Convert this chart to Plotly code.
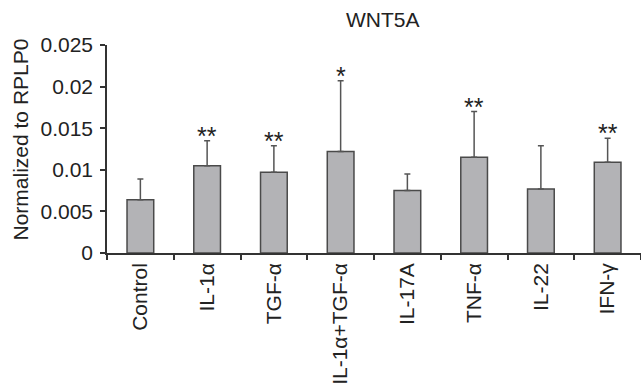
import plotly.graph_objects as go

categories = ["Control", "IL-1α", "TGF-α", "IL-1α+TGF-α", "IL-17A", "TNF-α", "IL-22", "IFN-γ"]
means = [0.0064, 0.0105, 0.0097, 0.0122, 0.0075, 0.0115, 0.0077, 0.0109]
err_top = [0.0089, 0.0135, 0.0129, 0.0207, 0.0095, 0.0170, 0.0129, 0.0138]
stars = ["", "**", "**", "*", "", "**", "", "**"]
yticks = [0, 0.005, 0.01, 0.015, 0.02, 0.025]
ytick_labels = ["0", "0.005", "0.01", "0.015", "0.02", "0.025"]

errs = [t - m for t, m in zip(err_top, means)]

FONT = "Liberation Sans, Arial, sans-serif"
FS = 21
W, H = 641, 389
L, R, T, B = 107, 0, 45, 136
pw, ph = W - L - R, H - T - B

fig = go.Figure()
fig.add_trace(go.Bar(
    x=categories, y=means,
    marker=dict(color="#b3b3b6", line=dict(color="#4a4a4a", width=1.5)),
    error_y=dict(type="data", symmetric=False, array=errs, arrayminus=[0]*len(errs),
                 color="#555555", thickness=1.5, width=3),
    width=0.4,
))

for c, t, s in zip(categories, err_top, stars):
    if s:
        fig.add_annotation(x=c, y=t, text=s, showarrow=False, yanchor="bottom",
                           yshift=-11, font=dict(family=FONT, size=25, color="#222"))

fig.add_annotation(xref="paper", yref="paper", x=(383 - L) / pw, y=(H - B - 19.5) / ph,
                   text="WNT5A", showarrow=False, xanchor="center", yanchor="middle",
                   font=dict(family=FONT, size=FS, color="#222"))
fig.add_annotation(xref="paper", yref="paper", x=(19.5 - L) / pw, y=(H - B - 140) / ph,
                   text="Normalized to RPLP0", textangle=-90, showarrow=False,
                   xanchor="center", yanchor="middle",
                   font=dict(family=FONT, size=FS, color="#222"))

fig.update_layout(
    width=W, height=H, margin=dict(l=L, r=R, t=T, b=B, autoexpand=False),
    paper_bgcolor="white", plot_bgcolor="white", showlegend=False,
    font=dict(family=FONT, size=FS, color="#222"),
    xaxis=dict(showline=True, linecolor="#333", linewidth=1.5, ticks="outside",
               tickson="boundaries", ticklen=5, tickcolor="#333", tickwidth=1.5,
               tickangle=-90, showgrid=False, tickfont=dict(size=FS),
               range=[-0.5, len(categories) - 0.5], automargin=False),
    yaxis=dict(showline=True, linecolor="#333", linewidth=1.5, ticks="outside",
               ticklen=5, tickcolor="#333", tickwidth=1.5, showgrid=False,
               zeroline=False, range=[0, 0.025], tickvals=yticks, ticktext=ytick_labels,
               tickfont=dict(size=FS), ticklabelstandoff=3, automargin=False),
)

fig.write_html("out.html", config={"displayModeBar": False},
               post_script="document.body.style.margin='0';document.body.style.overflow='hidden';")
